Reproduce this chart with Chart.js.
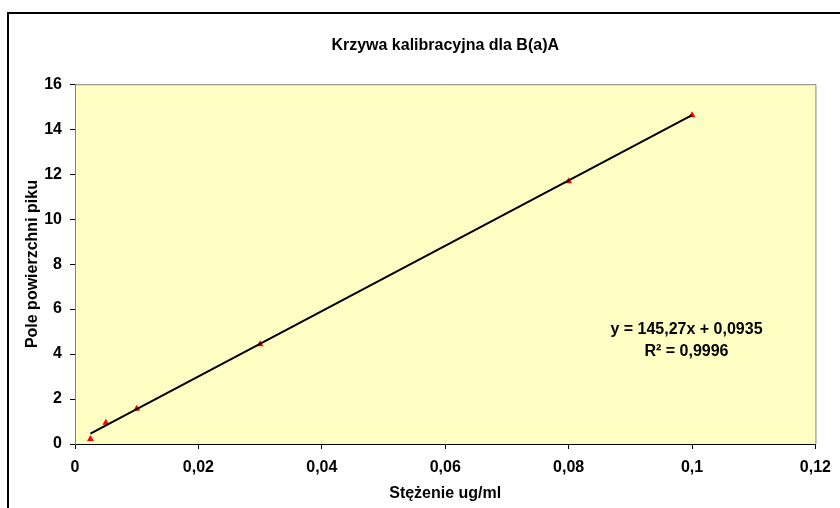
<!DOCTYPE html>
<html>
<head>
<meta charset="utf-8">
<script src="https://cdn.jsdelivr.net/npm/chart.js@4"></script>
<style>
  html, body { margin: 0; padding: 0; background: #fff; }
  #wrap { position: relative; width: 840px; height: 508px; }
</style>
</head>
<body>
<div id="wrap"><canvas id="c" width="840" height="508"></canvas></div>
<script>
const chartTitle = 'Krzywa kalibracyjna dla B(a)A';
const xAxisTitle = 'Stężenie ug/ml';
const yAxisTitle = 'Pole powierzchni piku';
const concentrations = [0.0025, 0.005, 0.01, 0.03, 0.08, 0.1];
const peakAreas = [0.22, 0.95, 1.57, 4.44, 11.68, 14.62];
const trendX = [0.0025, 0.1];
const trendY = [0.457, 14.62];
const xTickLabels = ['0', '0,02', '0,04', '0,06', '0,08', '0,1', '0,12'];
const yTickLabels = ['0', '2', '4', '6', '8', '10', '12', '14', '16'];
const equationText = 'y = 145,27x + 0,0935';
const r2Text = 'R² = 0,9996';

const FONT = "'Liberation Sans', Arial, sans-serif";

const decor = {
  id: 'decor',
  beforeDraw(chart) {
    const { ctx, chartArea: a } = chart;
    ctx.save();
    ctx.fillStyle = '#FFFFC4';
    ctx.fillRect(a.left, a.top, a.right - a.left, a.bottom - a.top);
    ctx.strokeStyle = '#000';
    ctx.lineWidth = 2;
    ctx.beginPath();
    ctx.moveTo(8, 508); ctx.lineTo(8, 13); ctx.lineTo(840, 13);
    ctx.stroke();
    ctx.strokeStyle = '#808080';
    ctx.lineWidth = 1;
    ctx.beginPath();
    ctx.moveTo(a.left, a.top + 0.5); ctx.lineTo(a.right + 0.5, a.top + 0.5); ctx.lineTo(a.right + 0.5, a.bottom);
    ctx.stroke();
    ctx.restore();
  },
  afterDraw(chart) {
    const { ctx } = chart;
    const xs = chart.scales.x, ys = chart.scales.y;
    const cx = xs.getPixelForValue(0.0991);
    ctx.save();
    ctx.fillStyle = '#000';
    ctx.font = 'bold 16px ' + FONT;
    ctx.textAlign = 'center';
    ctx.textBaseline = 'middle';
    ctx.fillText(equationText, cx, ys.getPixelForValue(5.07));
    ctx.fillText(r2Text, cx, ys.getPixelForValue(4.09));
    ctx.restore();
  }
};

new Chart(document.getElementById('c'), {
  type: 'scatter',
  data: {
    datasets: [
      {
        type: 'line',
        label: 'trend',
        data: trendX.map((x, i) => ({ x, y: trendY[i] })),
        borderColor: '#000',
        borderWidth: 2,
        pointRadius: 0,
        fill: false
      },
      {
        label: 'B(a)A',
        data: concentrations.map((x, i) => ({ x, y: peakAreas[i] })),
        pointStyle: 'triangle',
        pointRadius: 4,
        backgroundColor: '#FF0000',
        borderColor: '#FF0000',
        borderWidth: 0
      }
    ]
  },
  options: {
    responsive: false,
    animation: false,
    devicePixelRatio: 1,
    layout: { padding: { left: 0, right: 21, top: 0, bottom: 0 } },
    plugins: {
      legend: { display: false },
      tooltip: { enabled: false },
      title: {
        display: true,
        text: chartTitle,
        fullSize: false,
        color: '#000',
        font: { family: FONT, size: 16, weight: 'bold' },
        padding: { top: 36, bottom: 29 }
      }
    },
    scales: {
      x: {
        type: 'linear',
        min: 0, max: 0.12,
        afterFit(s) { s.height = 64; },
        afterBuildTicks(s) { s.ticks = xTickLabels.map((t, i) => ({ value: i * 0.02 })); },
        ticks: {
          callback: (v, i) => xTickLabels[i],
          color: '#000',
          font: { family: FONT, size: 16, weight: 'bold' },
          padding: 9,
          maxRotation: 0,
          autoSkip: false
        },
        grid: { drawOnChartArea: false, tickLength: 5, tickColor: '#000' },
        border: { color: '#000', width: 1 },
        title: {
          display: true,
          text: xAxisTitle,
          color: '#000',
          font: { family: FONT, size: 16, weight: 'bold' },
          padding: { top: 0, bottom: 5 }
        }
      },
      y: {
        type: 'linear',
        min: 0, max: 16,
        afterFit(s) { s.width = 75; },
        afterBuildTicks(s) { s.ticks = yTickLabels.map((t, i) => ({ value: i * 2 })); },
        ticks: {
          callback: (v, i) => yTickLabels[i],
          color: '#000',
          font: { family: FONT, size: 16, weight: 'bold' },
          padding: 8,
          autoSkip: false
        },
        grid: { drawOnChartArea: false, tickLength: 5, tickColor: '#000' },
        border: { color: '#808080', width: 1 },
        title: {
          display: true,
          text: yAxisTitle,
          color: '#000',
          font: { family: FONT, size: 16, weight: 'bold' },
          padding: { top: 23, bottom: 0 }
        }
      }
    }
  },
  plugins: [decor]
});
</script>
</body>
</html>
